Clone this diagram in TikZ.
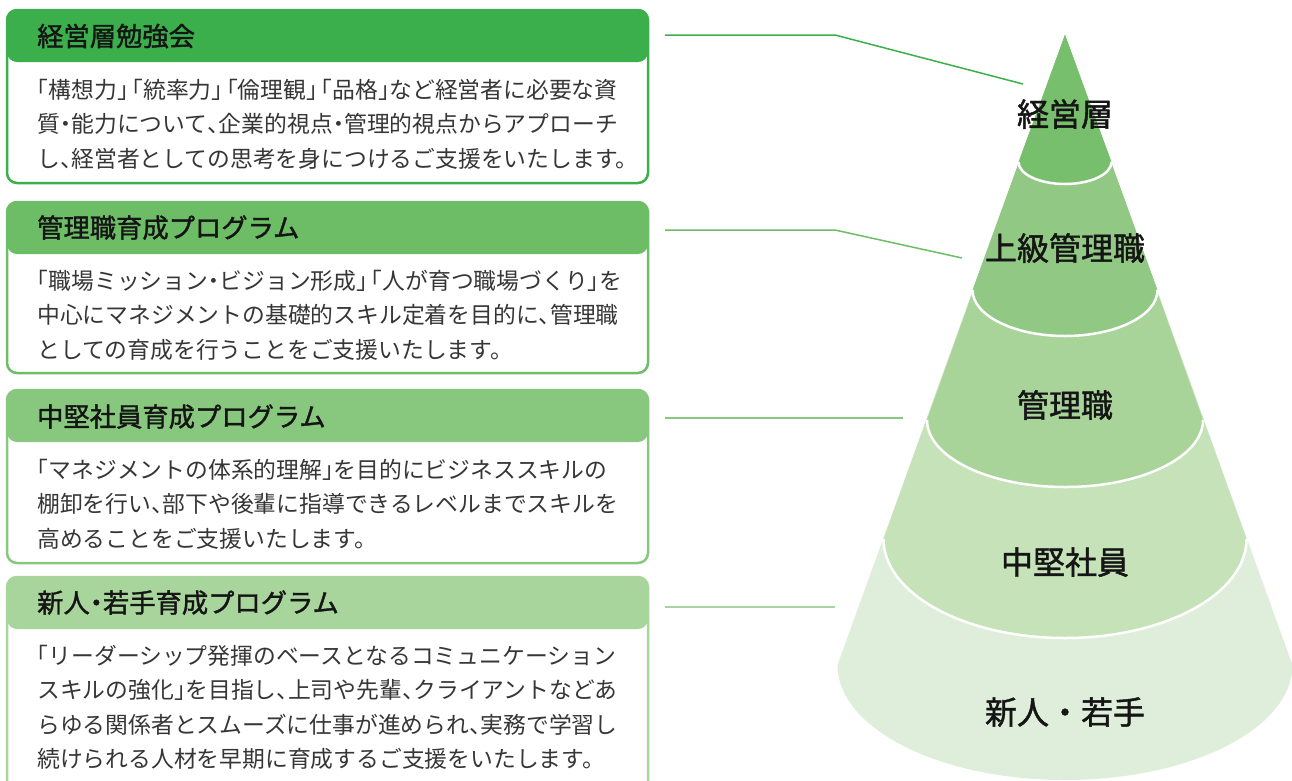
\documentclass[tikz,border=0pt]{standalone}
\usepackage{fontspec}
\setmainfont{Noto Sans CJK JP}
\newfontfamily\jpm[FakeBold=1.4]{Noto Sans CJK JP}
\newcommand\hw[1]{{\addfontfeatures{RawFeature=+halt}#1}}
\definecolor{g1}{HTML}{3AAF4B}
\definecolor{g2}{HTML}{6CBD65}
\definecolor{g3}{HTML}{88C77E}
\definecolor{g4}{HTML}{A8D59B}
\definecolor{k1}{HTML}{77BF6D}
\definecolor{k2}{HTML}{91C984}
\definecolor{k3}{HTML}{A8D49A}
\definecolor{k4}{HTML}{C5E2B9}
\definecolor{k5}{HTML}{DFEEDA}
\definecolor{bodytxt}{HTML}{363636}
\definecolor{headtxt}{HTML}{151515}
\begin{document}
\begin{tikzpicture}[x=1pt,y=-1pt,
  box/.style={draw=#1, line width=2.5pt, rounded corners=10pt, anchor=north west,
    inner sep=0pt, outer sep=0pt, fill=white, minimum width=641pt,
    path picture={\fill[#1] (path picture bounding box.north west) rectangle ([yshift=-52pt]path picture bounding box.north east);}},
  head/.style={anchor=base west, inner sep=0pt, text=headtxt, font=\jpm\fontsize{26.3}{30}\selectfont},
  body/.style={anchor=base west, inner sep=0pt, text=bodytxt, font=\fontsize{22.8}{30}\selectfont},
  lab/.style={anchor=base, inner sep=0pt, text=headtxt, font=\jpm\fontsize{32}{36}\selectfont},
  conn/.style={draw=#1, line width=1.5pt},
  sep/.style={draw=white, line width=2.5pt}]
\useasboundingbox (0,0) rectangle (1292,780);

% ---------- boxes ----------
\node[box=g1, minimum height=173pt] (b1) at (7,10) {};
\node[box=g2, minimum height=171pt] (b2) at (7,202) {};
\node[box=g3, minimum height=173pt] (b3) at (7,390) {};
\node[box=g4, minimum height=230pt] (b4) at (7,577) {};

\node[head] (h1) at (37,46) {経営層勉強会};
\node[head] (h2) at (37,237.5) {管理職育成プログラム};
\node[head] (h3) at (37,426.5) {中堅社員育成プログラム};
\node[head] (h4) at (37,612.5) {新人\hw{・}若手育成プログラム};

\node[body] (t1a) at (37,98.2) {\hw{「}構想力\hw{」}\hspace{0.15em}\hw{「}統率力\hw{」}\hspace{0.15em}\hw{「}倫理観\hw{」}\hspace{0.15em}\hw{「}品格\hw{」}など経営者に必要な資};
\node[body] (t1b) at (37,132.7) {質\hw{・}能力について\hw{、}企業的視点\hw{・}管理的視点からアプローチ};
\node[body] (t1c) at (37,167.2) {し\hw{、}経営者としての思考を身につけるご支援をいたします。};

\node[body] (t2a) at (37,289.2) {\hw{「}職場ミッション\hw{・}ビジョン形成\hw{」}\hspace{0.15em}\hw{「}人が育つ職場づくり\hw{」}を};
\node[body] (t2b) at (37,323.7) {中心にマネジメントの基礎的スキル定着を目的に\hw{、}管理職};
\node[body] (t2c) at (37,358.2) {としての育成を行うことをご支援いたします。};

\node[body] (t3a) at (37,478.2) {\hw{「}マネジメントの体系的理解\hw{」}を目的にビジネススキルの};
\node[body] (t3b) at (37,512.7) {棚卸を行い\hw{、}部下や後輩に指導できるレベルまでスキルを};
\node[body] (t3c) at (37,547.2) {高めることをご支援いたします。};

\node[body] (t4a) at (37,664.2) {\hw{「}リーダーシップ発揮のベースとなるコミュニケーション};
\node[body] (t4b) at (37,698.7) {スキルの強化\hw{」}を目指し\hw{、}上司や先輩\hw{、}クライアントなどあ};
\node[body] (t4c) at (37,733.2) {らゆる関係者とスムーズに仕事が進められ\hw{、}実務で学習し};
\node[body] (t4d) at (37,767.7) {続けられる人材を早期に育成するご支援をいたします。};

% ---------- cone ----------
\coordinate (apex) at (1065,35);
\fill[k5] (apex) -- (837.5,665) arc[start angle=180, end angle=0, x radius=227.5, y radius=115] -- cycle;
\fill[k4] (apex) -- (883.5,539) arc[start angle=180, end angle=0, x radius=181.5, y radius=99] -- cycle;
\draw[sep] (883.5,539) arc[start angle=180, end angle=0, x radius=181.5, y radius=99];
\fill[k3] (apex) -- (927,420) arc[start angle=180, end angle=0, x radius=138, y radius=67] -- cycle;
\draw[sep] (927,420) arc[start angle=180, end angle=0, x radius=138, y radius=67];
\fill[k2] (apex) -- (972.5,290) arc[start angle=180, end angle=0, x radius=92.5, y radius=46] -- cycle;
\draw[sep] (972.5,290) arc[start angle=180, end angle=0, x radius=92.5, y radius=46];
\fill[k1] (apex) -- (1018.5,162) arc[start angle=180, end angle=0, x radius=46.5, y radius=22] -- cycle;
\draw[sep] (1018.5,162) arc[start angle=180, end angle=0, x radius=46.5, y radius=22];

\node[lab] (l1) at (1065,126.2) {経営層};
\node[lab] (l2) at (1065,260.2) {上級管理職};
\node[lab] (l3) at (1065,417.2) {管理職};
\node[lab] (l4) at (1065,574.2) {中堅社員};
\node[lab] (l5) at (1065,724.2) {新人・若手};

% ---------- connectors ----------
\coordinate (c1a) at (665,35);  \coordinate (c1b) at (835,35);  \coordinate (c1c) at (1023,84);
\coordinate (c2a) at (665,230); \coordinate (c2b) at (835,230); \coordinate (c2c) at (962,258);
\coordinate (c3a) at (665,418); \coordinate (c3b) at (903,418);
\coordinate (c4a) at (665,607); \coordinate (c4b) at (835,607);
\draw[conn=g1] (c1a) -- (c1b) -- (c1c);
\draw[conn=g2] (c2a) -- (c2b) -- (c2c);
\draw[conn=g3] (c3a) -- (c3b);
\draw[conn=g4] (c4a) -- (c4b);
\end{tikzpicture}
\end{document}
